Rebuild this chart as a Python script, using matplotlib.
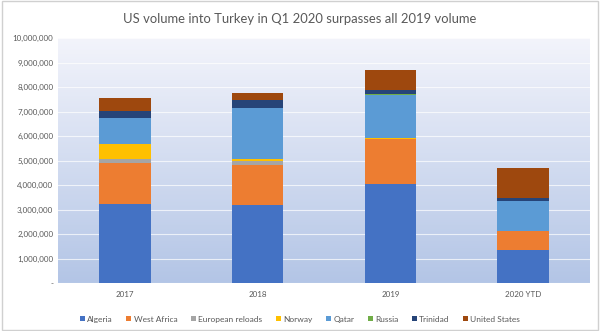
import matplotlib.pyplot as plt
import matplotlib.ticker as mticker
import numpy as np
from matplotlib.colors import LinearSegmentedColormap

plt.rcParams['font.family'] = ['Lato', 'DejaVu Sans']

categories = ['2017', '2018', '2019', '2020 YTD']
series = ['Algeria', 'West Africa', 'European reloads', 'Norway', 'Qatar',
          'Russia', 'Trinidad', 'United States']
algeria = [3220000, 3170000, 4030000, 1350000]
west_africa = [1690000, 1630000, 1850000, 780000]
european_reloads = [140000, 180000, 0, 0]
norway = [610000, 90000, 50000, 0]
qatar = [1090000, 2090000, 1760000, 1230000]
russia = [0, 0, 20000, 0]
trinidad = [270000, 310000, 170000, 120000]
united_states = [540000, 270000, 810000, 1200000]
values = [algeria, west_africa, european_reloads, norway, qatar, russia,
          trinidad, united_states]
colors = ['#4472C4', '#ED7D31', '#A5A5A5', '#FFC000', '#5B9BD5', '#70AD47',
          '#264478', '#9E480E']

fig = plt.figure(figsize=(6, 3.31), dpi=100)
fig.patch.set_facecolor('white')
ax = fig.add_axes([0.097, 0.145, 0.886, 0.74])

# gradient background for plot area
cmap = LinearSegmentedColormap.from_list('bg', ['#b3c5e6', '#f3f4fb'])
grad = np.linspace(0, 1, 256).reshape(-1, 1)
ax.imshow(grad, aspect='auto', cmap=cmap, origin='lower',
          extent=[-0.5, 3.5, 0, 10000000], zorder=0)

x = np.arange(len(categories))
bottom = np.zeros(len(categories))
for name, vals, c in zip(series, values, colors):
    ax.bar(x, vals, 0.39, bottom=bottom, color=c, label=name, zorder=3)
    bottom += np.array(vals)

ax.set_xlim(-0.5, 3.5)
ax.set_ylim(0, 10000000)
ax.set_yticks(np.arange(0, 10000001, 1000000))
ax.yaxis.set_major_formatter(mticker.FuncFormatter(
    lambda v, p: '-' if v == 0 else f'{int(v):,}'))
ax.set_xticks(x)
ax.set_xticklabels(categories)
ax.grid(axis='y', color='white', alpha=0.7, linewidth=0.8, zorder=1)
for s in ax.spines.values():
    s.set_visible(False)
ax.tick_params(length=0, labelsize=5.8, colors='#595959')
ax.tick_params(axis='x', pad=6)

fig.text(0.5, 0.942, 'US volume into Turkey in Q1 2020 surpasses all 2019 volume',
         fontsize=9.4, color='#595959', ha='center', va='center')

fig.legend(loc='center', bbox_to_anchor=(0.5, 0.036), ncol=8, frameon=False,
           fontsize=6.0, handlelength=0.6, handleheight=0.6,
           handletextpad=0.3, columnspacing=1.6, labelcolor='#595959')

border = plt.Rectangle((0.003, 0.003), 0.994, 0.994, transform=fig.transFigure,
                       fill=False, edgecolor='#d0d0d0', linewidth=1)
fig.patches.append(border)

fig.savefig('out.png', dpi=100)
